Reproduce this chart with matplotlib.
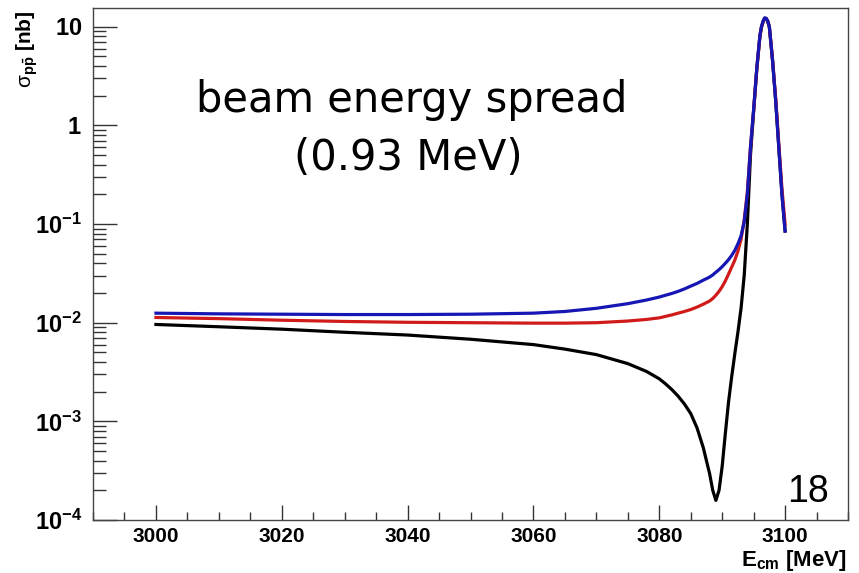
#!/usr/bin/env python3
import matplotlib
matplotlib.use("Agg")
import matplotlib.pyplot as plt
from matplotlib.ticker import FixedLocator, FixedFormatter, MultipleLocator, NullFormatter

plt.rcParams["font.family"] = ["Liberation Sans", "DejaVu Sans"]
plt.rcParams["mathtext.fontset"] = "custom"
plt.rcParams["mathtext.rm"] = "Liberation Sans"
plt.rcParams["mathtext.bf"] = "Liberation Sans:bold"
plt.rcParams["mathtext.it"] = "Liberation Sans:italic"

# centre-of-mass energy (MeV), shared by all three curves
energy = [3000, 3010, 3020, 3030, 3040, 3050, 3060, 3065, 3070, 3075, 3078, 3080,
          3081, 3082, 3083, 3084, 3085, 3086, 3087, 3088, 3088.5, 3089, 3089.5, 3090,
          3090.5, 3091, 3091.5, 3092, 3092.5, 3093, 3093.5, 3094, 3094.5, 3095, 3095.5,
          3096, 3096.25, 3096.5, 3096.75, 3097, 3097.25, 3097.5, 3098, 3098.5, 3099,
          3099.5, 3100]

# cross sections (nb)
sigma_black = [9.6e-3, 9.1e-3, 8.6e-3, 8.0e-3, 7.5e-3, 6.8e-3, 6.0e-3, 5.4e-3, 4.75e-3,
               3.85e-3, 3.2e-3, 2.7e-3,
               2.4e-3, 2.1e-3, 1.8e-3, 1.5e-3, 1.2e-3, 8.6e-4, 5.4e-4, 2.95e-4, 2.0e-4,
               1.58e-4, 2.0e-4, 3.5e-4,
               7.5e-4, 1.55e-3, 2.8e-3, 4.8e-3, 8.0e-3, 1.4e-2, 3.0e-2, 0.1, 0.5, 1.4, 3.7,
               8.0, 9.9, 11.2, 12.2, 12.1, 11.3, 9.9, 4.6, 1.8, 0.6,
               0.2, 0.085]
sigma_red = [1.13e-2, 1.10e-2, 1.06e-2, 1.03e-2, 1.01e-2, 1.0e-2, 0.99e-2, 0.99e-2, 1.0e-2,
             1.04e-2, 1.08e-2, 1.12e-2,
             1.16e-2, 1.2e-2, 1.25e-2, 1.3e-2, 1.36e-2, 1.44e-2, 1.54e-2, 1.66e-2, 1.76e-2,
             1.9e-2, 2.08e-2, 2.32e-2,
             2.65e-2, 3.1e-2, 3.65e-2, 4.3e-2, 5.3e-2, 7.0e-2, 0.11, 0.21, 0.6, 1.42, 3.75,
             8.1, 10.0, 11.3, 12.2, 12.1, 11.4, 10.0, 4.7, 1.9, 0.65,
             0.23, 0.1]
sigma_blue = [1.25e-2, 1.23e-2, 1.22e-2, 1.21e-2, 1.21e-2, 1.22e-2, 1.25e-2, 1.30e-2, 1.40e-2,
              1.56e-2, 1.70e-2, 1.82e-2,
              1.9e-2, 1.98e-2, 2.08e-2, 2.2e-2, 2.35e-2, 2.5e-2, 2.7e-2, 2.9e-2, 3.05e-2,
              3.25e-2, 3.45e-2, 3.7e-2,
              4.0e-2, 4.35e-2, 4.8e-2, 5.4e-2, 6.3e-2, 7.6e-2, 0.105, 0.2, 0.6, 1.45, 3.8,
              8.2, 10.1, 11.4, 12.3, 12.2, 11.4, 10.0, 4.6, 1.8, 0.6,
              0.2, 0.085]

y_ticks = [1e-4, 1e-3, 1e-2, 1e-1, 1, 10]
y_tick_labels = [r"$\mathbf{10^{-4}}$", r"$\mathbf{10^{-3}}$", r"$\mathbf{10^{-2}}$",
                 r"$\mathbf{10^{-1}}$", r"$\mathbf{1}$", r"$\mathbf{10}$"]

fig = plt.figure(figsize=(8.59, 5.73), dpi=100)
ax = fig.add_axes([0.1083, 0.0925, 0.8789, 0.8935])

ax.plot(energy, sigma_black, color="black", lw=2.3)
ax.plot(energy, sigma_red, color="#d11b1b", lw=2.3)
ax.plot(energy, sigma_blue, color="#1616b4", lw=2.3)

ax.set_yscale("log")
ax.set_xlim(2990, 3110)
ax.set_ylim(1e-4, 15.5)

ax.xaxis.set_major_locator(MultipleLocator(20))
ax.xaxis.set_minor_locator(MultipleLocator(5))
ax.yaxis.set_major_locator(FixedLocator(y_ticks))
ax.yaxis.set_major_formatter(FixedFormatter(y_tick_labels))
ax.yaxis.set_minor_formatter(NullFormatter())

ax.tick_params(axis="x", which="major", direction="in", length=11, width=1,
               top=False, labelsize=15, pad=5, color="#333333")
ax.tick_params(axis="x", which="minor", direction="in", length=6, width=1,
               top=False, color="#333333")
ax.tick_params(axis="y", which="major", direction="in", length=17, width=1,
               right=False, labelsize=17, pad=8, color="#333333")
ax.tick_params(axis="y", which="minor", direction="in", length=9, width=1,
               right=False, color="#333333")
for lab in ax.get_xticklabels():
    lab.set_fontweight("bold")
for sp in ax.spines.values():
    sp.set_color("#444444")
    sp.set_linewidth(1.0)

fig.text(412 / 859, 1 - 100 / 573, "beam energy spread", ha="center", va="center",
         fontsize=30, family="DejaVu Sans")
fig.text(408 / 859, 1 - 158 / 573, "(0.93 MeV)", ha="center", va="center",
         fontsize=30, family="DejaVu Sans")
fig.text(808 / 859, 1 - 502 / 573, "18", ha="center", va="baseline", fontsize=27)

fig.text(847 / 859, 1 - 566 / 573, r"$\mathbf{E_{cm}}$ [MeV]", ha="right", va="baseline",
         fontsize=16, fontweight="bold")
fig.text(27 / 859, 1 - 10 / 573, r"$\mathrm{\sigma}_{\mathbf{p\bar{p}}}$ [nb]", ha="center",
         va="top", rotation=90, fontsize=15, fontweight="bold")

fig.savefig("out.png", dpi=100)
